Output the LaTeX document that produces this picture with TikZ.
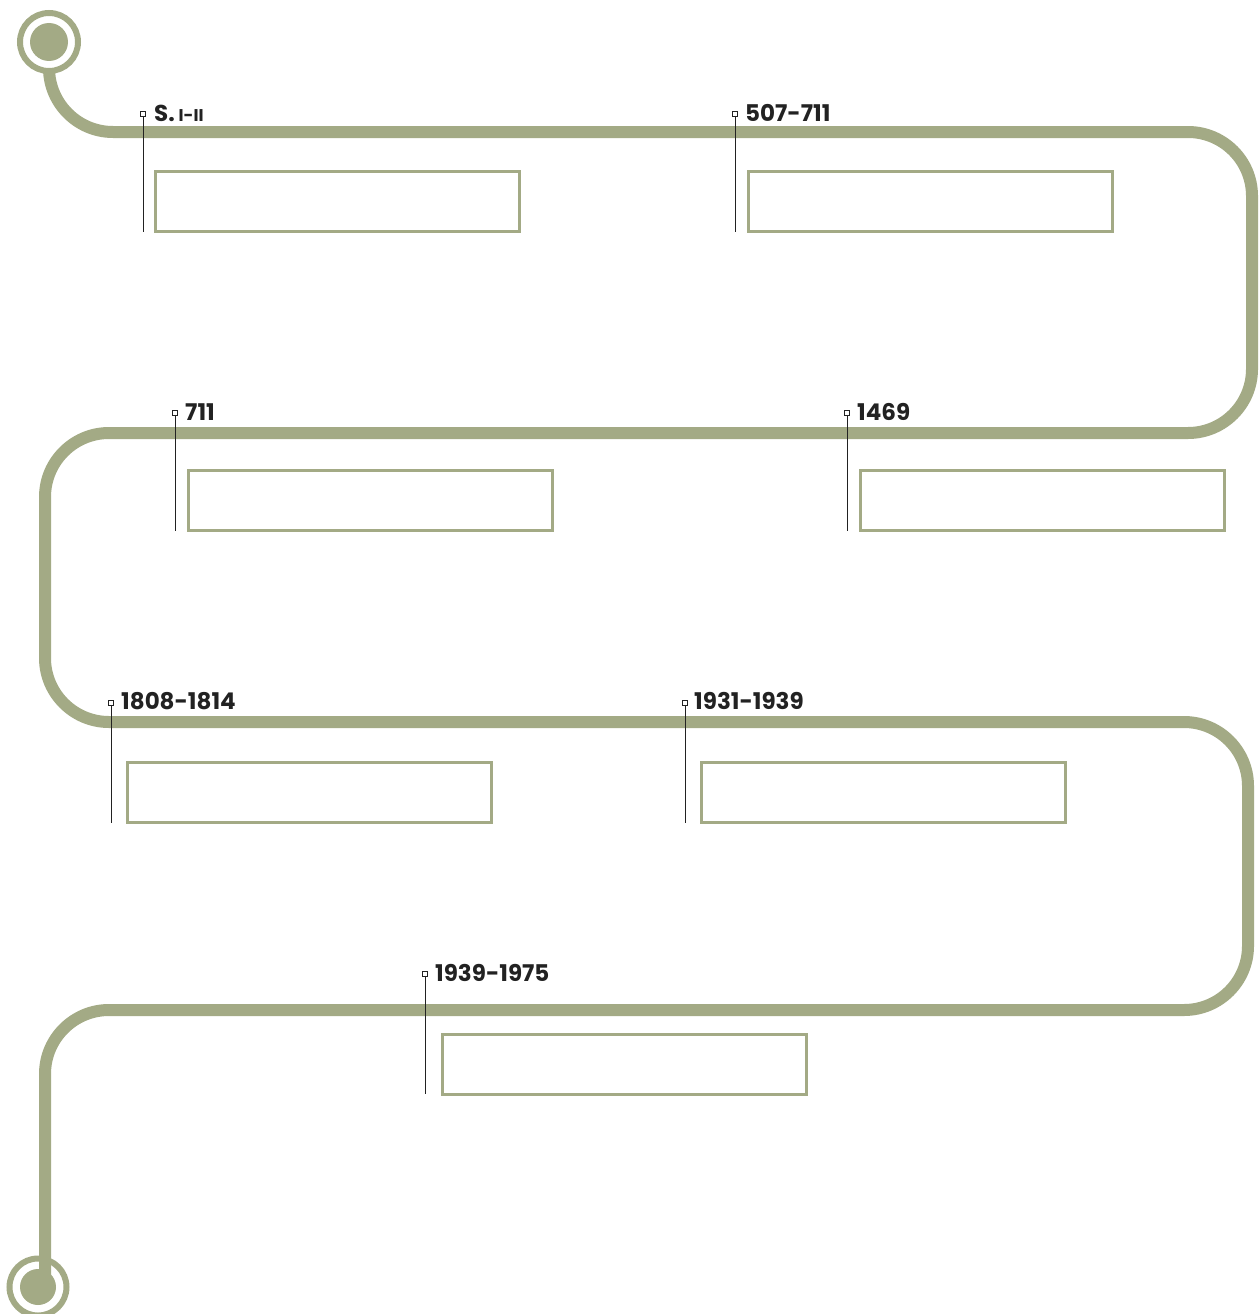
\documentclass[tikz,border=0pt]{standalone}
\usepackage{fontspec}
\setmainfont{Poppins}
\definecolor{track}{HTML}{A3AA85}
\definecolor{ink}{HTML}{222222}
\tikzset{
  trackline/.style={draw=track,line width=12pt,rounded corners=64pt},
  ring/.style={draw=track,line width=6pt,fill=white},
  disc/.style={fill=track},
  marker/.style={draw=ink,fill=white,line width=0.8pt,minimum size=5pt,inner sep=0pt,rectangle},
  stem/.style={draw=ink,line width=0.8pt},
  datelabel/.style={anchor=base west,text=ink,font=\fontsize{23}{26}\selectfont\bfseries,inner sep=0pt},
  infobox/.style={draw=track,line width=2.5pt,minimum width=364pt,minimum height=60pt,inner sep=0pt,anchor=north west}
}
\begin{document}
\begin{tikzpicture}[x=1pt,y=-1pt]
\useasboundingbox[fill=white] (0,0) rectangle (1260,1314);
% end circle
\draw[ring] (38,1287) circle (28.5);
\fill[disc] (38,1287) circle (18);
% track
\draw[trackline] (49,42) -- (49,132) -- (1252,132) -- (1252,433) -- (45,433) -- (45,722) -- (1248,722) -- (1248,1010) -- (45,1010) -- (45,1287);
% start circle
\draw[ring] (49,42) circle (29);
\fill[disc] (49,42) circle (19);

% events
\node[marker] (m1) at (143,114) {};
\coordinate (e1) at (143,232);
\draw[stem] (m1) -- (e1);
\node[datelabel] (l1) at (154,121) {S.\,{\fontsize{17}{20}\selectfont I-II}};
\node[infobox] (b1) at (154,170) {};

\node[marker] (m2) at (735,114) {};
\coordinate (e2) at (735,232);
\draw[stem] (m2) -- (e2);
\node[datelabel] (l2) at (745,121) {507-711};
\node[infobox] (b2) at (747,170) {};

\node[marker] (m3) at (175,413) {};
\coordinate (e3) at (175,531);
\draw[stem] (m3) -- (e3);
\node[datelabel] (l3) at (185,420) {711};
\node[infobox] (b3) at (187,469) {};

\node[marker] (m4) at (847,413) {};
\coordinate (e4) at (847,531);
\draw[stem] (m4) -- (e4);
\node[datelabel] (l4) at (857,420) {1469};
\node[infobox] (b4) at (859,469) {};

\node[marker] (m5) at (111,703) {};
\coordinate (e5) at (111,823);
\draw[stem] (m5) -- (e5);
\node[datelabel] (l5) at (121,709) {1808-1814};
\node[infobox] (b5) at (126,761) {};

\node[marker] (m6) at (685,703) {};
\coordinate (e6) at (685,823);
\draw[stem] (m6) -- (e6);
\node[datelabel] (l6) at (694,709) {1931-1939};
\node[infobox] (b6) at (700,761) {};

\node[marker] (m7) at (425,974) {};
\coordinate (e7) at (425,1094);
\draw[stem] (m7) -- (e7);
\node[datelabel] (l7) at (435,981) {1939-1975};
\node[infobox] (b7) at (441,1033) {};
\end{tikzpicture}
\end{document}
